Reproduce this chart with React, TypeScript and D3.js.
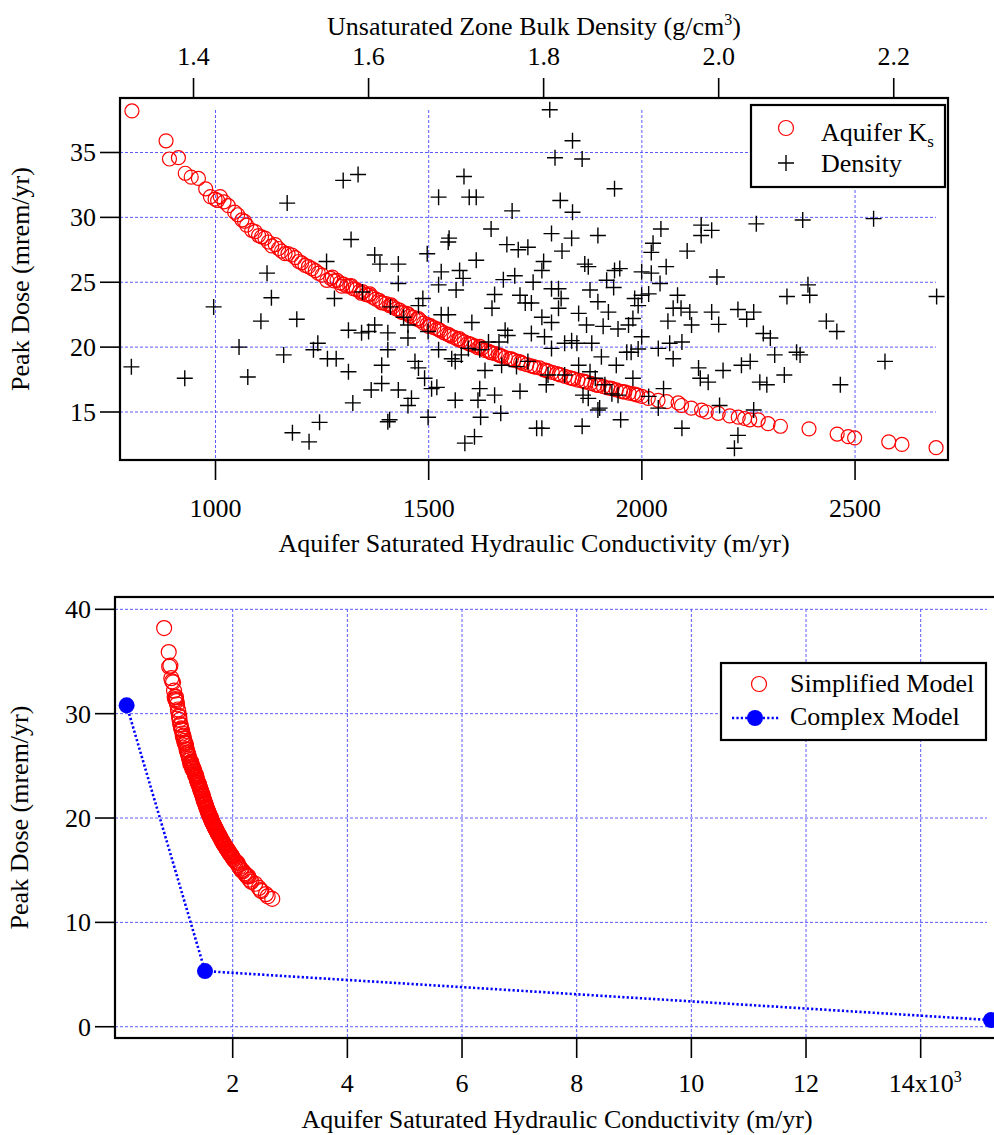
import React from "react";
import * as d3 from "d3";

// ---------- Data ----------
// Aquifer Ks (m/yr) vs Peak dose (mrem/yr) — red circles (top) / Simplified Model (bottom)
const ksValues = [
  804, 884, 892, 913, 929, 943, 960, 977, 988, 999, 1005, 1011, 1020, 1030, 1045, 1052, 1062, 1068, 1073, 1085,
  1093, 1101, 1108, 1116, 1124, 1132, 1140, 1148, 1155, 1163, 1170, 1179, 1187, 1195, 1202, 1210, 1218, 1226,
  1234, 1241, 1250, 1261,
  1270, 1274, 1278, 1285, 1292, 1296, 1300, 1308, 1315, 1318, 1323, 1330, 1338, 1342, 1346, 1353, 1360, 1362,
  1368, 1376, 1384, 1388, 1392, 1400, 1408, 1412, 1416, 1424, 1432, 1436, 1440, 1448, 1452, 1456, 1464, 1472,
  1476, 1480, 1488, 1496, 1500, 1504, 1512, 1520, 1524, 1528, 1536, 1544, 1548, 1552, 1560, 1568, 1572, 1576,
  1584, 1592, 1596, 1600, 1608, 1616, 1620, 1624, 1632, 1640, 1644, 1648, 1656, 1664, 1668, 1672, 1680, 1690,
  1694, 1700, 1710, 1716, 1720, 1730, 1740, 1746, 1750, 1760, 1770, 1776, 1780, 1790, 1800, 1806, 1810, 1820,
  1830, 1836, 1840, 1850, 1860, 1866, 1870, 1880, 1890, 1896, 1900, 1910, 1920, 1926, 1930, 1940, 1950, 1956,
  1960, 1970, 1980, 1986, 1990, 2000,
  2015, 2038, 2058, 2085, 2093, 2116, 2140, 2151, 2179, 2206, 2226, 2241, 2253, 2273, 2296, 2325, 2392, 2458,
  2484, 2499, 2579, 2610, 2690,
];
const ksDose = [
  38.2, 35.9, 34.5, 34.6, 33.4, 33.1, 33.0, 32.2, 31.6, 31.4, 31.3, 31.6, 31.2, 30.9, 30.4, 30.2, 29.8, 29.7, 29.4, 29.0,
  28.9, 28.6, 28.5, 28.4, 28.1, 27.8, 27.9, 27.6, 27.4, 27.2, 27.2, 27.1, 26.9, 26.6, 26.5, 26.3, 26.2, 26.05,
  25.9, 25.7, 25.55, 25.15,
  25.3, 25.4, 25.1, 25.15, 24.95, 24.7, 24.85, 24.7, 24.7, 24.75, 24.5, 24.45, 24.3, 24.15, 24.25, 24.05, 24.0, 24.1,
  23.85, 23.7, 23.6, 23.45, 23.4, 23.35, 23.2, 23.25, 23.1, 22.95, 22.85, 22.7, 22.65, 22.6, 22.55, 22.4, 22.3, 22.15,
  22.2, 22.05, 21.85, 21.75, 21.6, 21.65, 21.5, 21.4, 21.35, 21.25, 21.1, 21.0, 20.95, 20.85, 20.75, 20.6, 20.65, 20.5,
  20.4, 20.3, 20.25, 20.2, 20.1, 19.95, 20.05, 19.9, 19.75, 19.7, 19.6, 19.55, 19.5, 19.4, 19.35, 19.3, 19.2, 19.1,
  19.1, 19.0, 18.9, 18.85, 18.75, 18.65, 18.55, 18.5, 18.45, 18.4, 18.25, 18.2, 18.15, 18.05, 17.95, 17.9, 17.85, 17.75,
  17.65, 17.6, 17.55, 17.45, 17.4, 17.35, 17.3, 17.2, 17.1, 17.05, 17.05, 16.95, 16.85, 16.85, 16.8, 16.7, 16.6, 16.55,
  16.55, 16.45, 16.4, 16.35, 16.3, 16.2,
  16.05, 15.9, 15.8, 15.7, 15.5, 15.3, 15.15, 15.0, 14.9, 14.7, 14.6, 14.5, 14.4, 14.4, 14.1, 13.9, 13.7, 13.3,
  13.1, 13.0, 12.7, 12.5, 12.25,
];

// Unsaturated zone bulk density (g/cm3) vs Peak dose — black crosses
const densityValues = [
  1.329, 1.390, 1.423, 1.507, 1.484, 1.489, 1.477, 1.518, 1.452, 1.462, 1.503, 1.537, 1.542, 1.553, 1.544, 1.513, 1.532, 1.552,
  1.571, 1.588, 1.709, 1.680, 1.715, 1.723, 1.764, 1.580, 1.692, 1.691, 1.740, 1.607, 1.613, 1.634, 1.667, 1.723, 1.758, 1.771,
  1.782, 1.634, 1.683, 1.680, 1.704, 1.708, 1.700, 1.754, 1.767, 1.788, 1.773, 1.744, 1.779, 1.786, 1.561, 1.593, 1.625, 1.662,
  1.657, 1.640, 1.645, 1.577, 1.592, 1.600, 1.607, 1.622, 1.645, 1.668, 1.683, 1.691, 1.718, 1.741, 1.756, 1.759, 1.786, 1.737,
  1.749, 1.727, 1.714, 1.563, 1.577, 1.622, 1.615, 1.653, 1.657, 1.680, 1.695, 1.699, 1.706, 1.733, 1.752, 1.769, 1.782, 1.603,
  1.615, 1.634, 1.649, 1.645, 1.664, 1.672, 1.678, 1.699, 1.727, 1.725, 1.744, 1.773, 1.582, 1.622, 1.624, 1.668, 1.728, 1.751,
  1.710, 1.721, 1.792,
  1.807, 1.833, 1.813, 1.844, 1.881, 1.819, 1.833, 1.809, 1.832, 1.862, 1.821, 1.800, 1.798, 1.847, 1.851, 1.887, 1.881, 1.817,
  1.809, 1.853, 1.820, 1.872, 1.880, 1.862, 1.840, 1.874, 1.817, 1.798, 1.809, 1.849, 1.868, 1.885, 1.897, 1.902, 1.904, 1.912,
  1.908, 1.920, 1.912, 1.923, 1.923, 1.925, 1.934, 1.940, 1.933, 1.964, 1.980, 1.992, 1.980, 1.998, 1.953, 1.948, 1.957, 1.967,
  1.992, 2.022, 2.032, 1.942, 1.969, 2.000, 1.912, 1.832, 1.824, 1.838, 1.855, 1.801, 1.809, 1.866, 1.895, 1.900, 1.908, 1.931,
  1.944, 1.958, 1.948, 1.883, 1.840, 1.805, 1.824, 1.803, 1.853, 1.859, 1.870, 1.902, 1.845, 1.851, 1.885, 1.878, 1.920, 1.937,
  1.931, 1.977, 1.979, 1.988, 2.005, 2.026, 2.001, 1.862, 1.864, 1.798, 1.844, 1.888, 1.958, 2.022, 2.018,
  2.043, 2.096, 2.177, 2.102, 2.104, 2.078, 2.249, 2.040, 2.123, 2.135, 2.051, 2.059, 2.089, 2.093, 2.064, 2.190, 2.036, 2.075,
  2.047, 2.055, 2.139, 2.040,
];
const densityDose = [
  18.48, 17.6, 23.1, 31.1, 25.7, 23.8, 22.0, 22.15, 20.0, 17.7, 19.4, 19.8, 20.3, 19.1, 14.2, 13.4, 12.7, 26.6,
  32.85, 33.3, 33.15, 31.56, 31.56, 31.56, 30.5, 28.3, 28.4, 28.1, 29.1, 27.1, 26.4, 26.4, 27.2, 26.7, 27.9, 27.5,
  27.7, 24.9, 25.8, 24.8, 25.9, 25.3, 24.4, 25.2, 25.5, 25.0, 24.0, 24.05, 23.4, 23.4, 23.75, 24.25, 23.1, 23.75,
  23.2, 22.3, 21.7, 21.3, 21.1, 21.2, 21.7, 21.1, 20.7, 21.2, 22.5, 22.5, 21.9, 23.0, 21.3, 20.9, 21.05, 20.4,
  20.4, 19.8, 19.9, 19.1, 18.1, 19.8, 18.6, 18.9, 18.4, 19.8, 19.1, 18.9, 19.4, 18.2, 18.6, 18.5, 18.9, 16.7,
  17.2, 16.7, 16.05, 15.5, 17.6, 16.8, 16.9, 15.9, 16.8, 15.9, 16.3, 16.6, 15.7, 14.25, 14.4, 14.6, 14.6, 14.9,
  12.6, 13.1, 13.75,
  38.3, 35.9, 34.6, 34.5, 32.2, 31.3, 30.4, 28.75, 28.4, 28.6, 27.4, 26.6, 25.9, 26.4, 26.2, 26.05, 25.9, 24.5,
  24.5, 24.4, 23.75, 25.15, 24.6, 23.5, 22.6, 22.7, 23.0, 22.3, 21.9, 21.7, 21.6, 21.4, 21.7, 22.2, 23.75, 24.0,
  23.2, 24.1, 25.8, 25.7, 27.3, 28.0, 29.1, 26.2, 24.9, 27.4, 29.4, 29.0, 28.6, 25.4, 24.0, 23.0, 23.0, 22.7,
  22.7, 22.9, 22.15, 22.0, 21.7, 21.75, 20.8, 20.5, 20.3, 20.3, 20.3, 20.8, 19.9, 19.25, 19.6, 19.6, 19.85, 19.9,
  20.3, 20.4, 19.1, 18.6, 18.6, 17.85, 17.85, 17.1, 18.1, 17.6, 17.1, 17.6, 16.3, 16.05, 16.3, 16.4, 16.2, 16.8,
  15.3, 18.4, 17.6, 17.3, 18.2, 18.6, 15.5, 15.15, 15.3, 13.75, 13.9, 14.4, 13.75, 13.2, 12.2,
  29.5, 29.8, 29.9, 24.8, 24.0, 23.9, 23.9, 22.7, 22.0, 21.2, 21.05, 20.7, 19.6, 19.4, 19.4, 18.9, 18.9, 17.85,
  17.3, 17.1, 17.1, 15.15,
];

// Complex model (bottom panel)
const complexKs = [150, 1517, 15227];
const complexDose = [30.8, 5.33, 0.64];

// Ticks
const ksTicksTop = [1000, 1500, 2000, 2500];
const densityTicks = [1.4, 1.6, 1.8, 2.0, 2.2];
const doseTicksTop = [15, 20, 25, 30, 35];
const ksTicksBottom = [2000, 4000, 6000, 8000, 10000, 12000, 14000];
const doseTicksBottom = [0, 10, 20, 30, 40];

// ---------- Styling ----------
const FONT = "'Liberation Serif', 'Times New Roman', serif";
const FS = 26;
const GRID = "#5b5bff";
const RED = "#ff0000";
const BLUE = "#0000ff";

const Cross = ({ x, y, s = 8 }: { x: number; y: number; s?: number }) => (
  <path d={`M${x - s},${y}H${x + s}M${x},${y - s}V${y + s}`} stroke="#000" strokeWidth={1.4} fill="none" />
);

export default function App() {
  // Top panel
  const L1 = 120, R1 = 948, T1 = 98, B1 = 460;
  const xK = d3.scaleLinear().domain([776, 2718]).range([L1, R1]);
  const xD = d3.scaleLinear().domain([1.316, 2.262]).range([L1, R1]);
  const yT = d3.scaleLinear().domain([11.3, 39.2]).range([B1, T1]);

  // Bottom panel
  const L2 = 115, R2 = 999, T2 = 597, B2 = 1038;
  const xB = d3.scaleLinear().domain([-53, 15366]).range([L2, R2]);
  const yB = d3.scaleLinear().domain([-1.08, 41.18]).range([B2, T2]);

  const complexLine = d3
    .line<number>()
    .x((_, i) => xB(complexKs[i]))
    .y((d) => yB(d))(complexDose) as string;

  const fmt1 = d3.format(".1f");

  return (
    <svg
      width={994}
      height={1135}
      style={{ position: "absolute", left: 0, top: 0, background: "#fff" }}
      fontFamily={FONT}
      fontSize={FS}
    >
      <rect x={0} y={0} width={994} height={1135} fill="#fff" />

      {/* ===== TOP PANEL ===== */}
      <g>
        {/* grid */}
        {ksTicksTop.map((t) => (
          <line key={"gx" + t} x1={xK(t)} x2={xK(t)} y1={T1 + 12} y2={B1} stroke={GRID} strokeWidth={1} strokeDasharray="3,2" />
        ))}
        {doseTicksTop.map((t) => (
          <line key={"gy" + t} x1={L1} x2={R1 - 12} y1={yT(t)} y2={yT(t)} stroke={GRID} strokeWidth={1} strokeDasharray="3,2" />
        ))}

        {/* red circles */}
        {ksValues.map((k, i) => (
          <circle key={"k" + i} cx={xK(k)} cy={yT(ksDose[i])} r={7} fill="none" stroke={RED} strokeWidth={1.2} />
        ))}
        {/* crosses */}
        {densityValues.map((d, i) => (
          <Cross key={"d" + i} x={xD(d)} y={yT(densityDose[i])} />
        ))}

        {/* frame */}
        <rect x={L1} y={T1} width={R1 - L1} height={B1 - T1} fill="none" stroke="#000" strokeWidth={2.2} />

        {/* bottom axis */}
        {ksTicksTop.map((t) => (
          <g key={"bx" + t}>
            <line x1={xK(t)} x2={xK(t)} y1={B1} y2={B1 + 20} stroke="#000" strokeWidth={1.6} />
            <text x={xK(t)} y={517} textAnchor="middle">{t}</text>
          </g>
        ))}
        <text x={(L1 + R1) / 2} y={552} textAnchor="middle">Aquifer Saturated Hydraulic Conductivity (m/yr)</text>

        {/* top axis */}
        {densityTicks.map((t) => (
          <g key={"tx" + t}>
            <line x1={xD(t)} x2={xD(t)} y1={T1} y2={T1 - 20} stroke="#000" strokeWidth={1.6} />
            <text x={xD(t)} y={65} textAnchor="middle">{fmt1(t)}</text>
          </g>
        ))}
        <text x={(L1 + R1) / 2} y={35} textAnchor="middle">
          Unsaturated Zone Bulk Density (g/cm<tspan dy={-10} fontSize={16}>3</tspan><tspan dy={10}>)</tspan>
        </text>

        {/* left axis */}
        {doseTicksTop.map((t) => (
          <g key={"ly" + t}>
            <line x1={L1 - 20} x2={L1} y1={yT(t)} y2={yT(t)} stroke="#000" strokeWidth={1.6} />
            <text x={96} y={yT(t)} dy="0.34em" textAnchor="end">{t}</text>
          </g>
        ))}
        <text transform={`translate(29,${(T1 + B1) / 2}) rotate(-90)`} textAnchor="middle">Peak Dose (mrem/yr)</text>

        {/* legend */}
        <rect x={751} y={105} width={194} height={82} fill="#fff" stroke="#000" strokeWidth={2.2} />
        <circle cx={786} cy={128} r={7.5} fill="none" stroke={RED} strokeWidth={1.2} />
        <text x={821} y={141}>
          Aquifer K<tspan dy={6} fontSize={17}>s</tspan>
        </text>
        <Cross x={786} y={163} />
        <text x={821} y={172}>Density</text>
      </g>

      {/* ===== BOTTOM PANEL ===== */}
      <g>
        {ksTicksBottom.map((t) => (
          <line key={"bgx" + t} x1={xB(t)} x2={xB(t)} y1={T2 + 12} y2={B2} stroke={GRID} strokeWidth={1} strokeDasharray="3,2" />
        ))}
        {doseTicksBottom.map((t) => (
          <line key={"bgy" + t} x1={L2} x2={R2 - 12} y1={yB(t)} y2={yB(t)} stroke={GRID} strokeWidth={1} strokeDasharray="3,2" />
        ))}

        {/* simplified model */}
        {ksValues.map((k, i) => (
          <circle key={"bk" + i} cx={xB(k)} cy={yB(ksDose[i])} r={7.5} fill="none" stroke={RED} strokeWidth={1.2} />
        ))}

        {/* complex model */}
        <path d={complexLine} fill="none" stroke={BLUE} strokeWidth={2.6} strokeDasharray="2.2,2.2" />
        {complexKs.map((k, i) => (
          <circle key={"c" + i} cx={xB(k)} cy={yB(complexDose[i])} r={8} fill={BLUE} />
        ))}

        {/* frame */}
        <rect x={L2} y={T2} width={R2 - L2} height={B2 - T2} fill="none" stroke="#000" strokeWidth={2.2} />

        {/* x axis */}
        {ksTicksBottom.map((t) => (
          <g key={"bbx" + t}>
            <line x1={xB(t)} x2={xB(t)} y1={B2} y2={B2 + 20} stroke="#000" strokeWidth={1.6} />
            {t === 14000 ? (
              <text x={xB(t) - 32} y={1092}>
                14x10<tspan dy={-10} fontSize={16}>3</tspan>
              </text>
            ) : (
              <text x={xB(t)} y={1092} textAnchor="middle">{t / 1000}</text>
            )}
          </g>
        ))}
        <text x={(L2 + R2) / 2} y={1128} textAnchor="middle">Aquifer Saturated Hydraulic Conductivity (m/yr)</text>

        {/* y axis */}
        {doseTicksBottom.map((t) => (
          <g key={"bly" + t}>
            <line x1={L2 - 20} x2={L2} y1={yB(t)} y2={yB(t)} stroke="#000" strokeWidth={1.6} />
            <text x={91} y={yB(t)} dy="0.34em" textAnchor="end">{t}</text>
          </g>
        ))}
        <text transform={`translate(28,${(T2 + B2) / 2}) rotate(-90)`} textAnchor="middle">Peak Dose (mrem/yr)</text>

        {/* legend */}
        <rect x={721} y={663} width={265} height={77} fill="#fff" stroke="#000" strokeWidth={2.2} />
        <circle cx={759} cy={684} r={7.5} fill="none" stroke={RED} strokeWidth={1.2} />
        <text x={790} y={692}>Simplified Model</text>
        <line x1={732} x2={779} y1={718} y2={718} stroke={BLUE} strokeWidth={2.6} strokeDasharray="2.2,2.2" />
        <circle cx={755} cy={718} r={8} fill={BLUE} />
        <text x={790} y={725}>Complex Model</text>
      </g>
    </svg>
  );
}
